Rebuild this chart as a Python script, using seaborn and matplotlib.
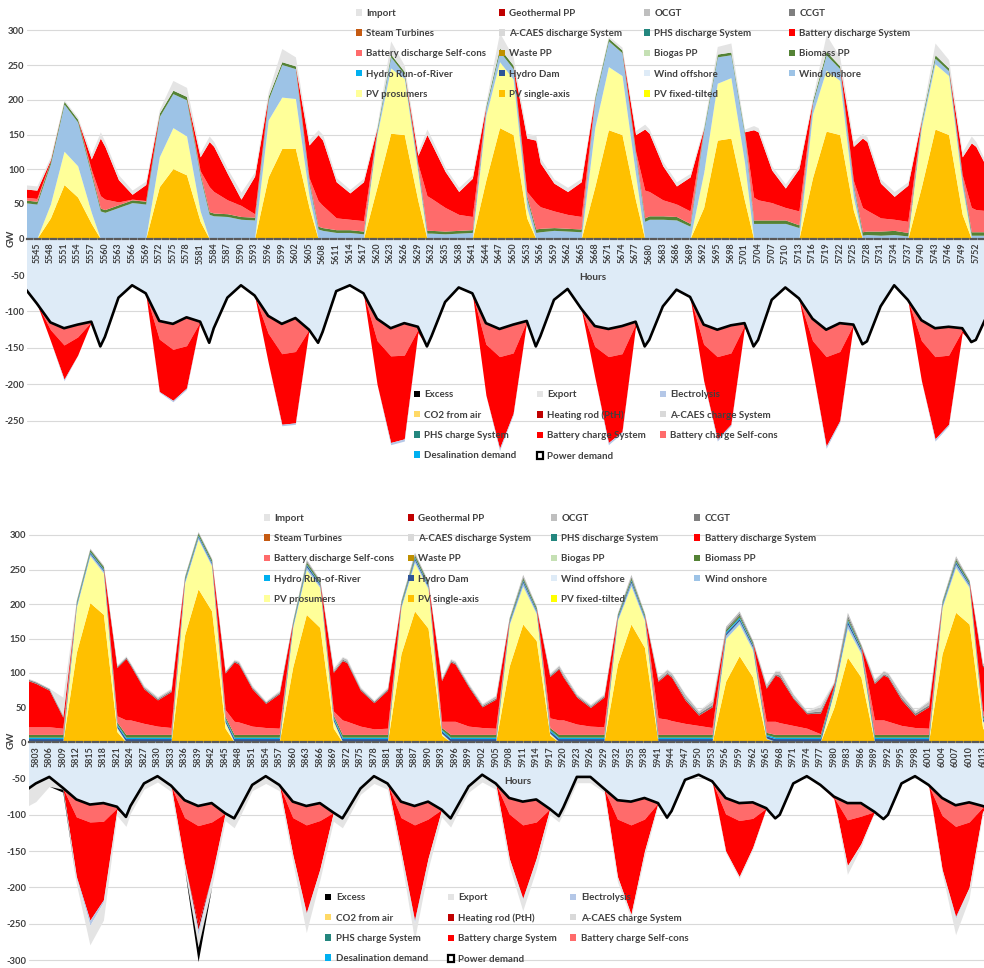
import numpy as np
import matplotlib
matplotlib.use("Agg")
import matplotlib.pyplot as plt
from matplotlib.patches import Patch
import seaborn as sns

# ------------------------------------------------------------------
# Upper window (hours 5543-5754), values in GW
# ------------------------------------------------------------------
top_hours = [
    5542, 5545, 5548, 5551, 5554, 5557, 5559,
    5560, 5563, 5566, 5569, 5572, 5575, 5578, 5581, 5583,
    5584, 5587, 5590, 5593, 5596, 5599, 5602, 5605, 5607,
    5608, 5611, 5614, 5617, 5620, 5623, 5626, 5629, 5631,
    5632, 5635, 5638, 5641, 5644, 5647, 5650, 5653, 5655,
    5656, 5659, 5662, 5665, 5668, 5671, 5674, 5677, 5679,
    5680, 5683, 5686, 5689, 5692, 5695, 5698, 5701, 5703,
    5704, 5707, 5710, 5713, 5716, 5719, 5722, 5725, 5727,
    5728, 5731, 5734, 5737, 5740, 5743, 5746, 5749, 5751,
    5752, 5755]

top_pv_single = [
    0, 0, 30, 78, 60, 22, 0,
    0, 0, 0, 0, 75, 101, 92, 25, 0,
    0, 0, 0, 0, 89, 130, 130, 45, 0,
    0, 0, 0, 0, 75, 152, 150, 55, 0,
    0, 0, 0, 0, 85, 160, 150, 30, 0,
    0, 0, 0, 0, 75, 157, 150, 55, 0,
    0, 0, 0, 0, 45, 142, 145, 55, 0,
    0, 0, 0, 0, 88, 155, 150, 41, 0,
    0, 0, 0, 0, 75, 158, 150, 35, 0,
    0, 0]
top_pv_prosumers = [
    0, 0, 20, 48, 45, 16, 0,
    0, 0, 0, 0, 43, 59, 56, 15, 0,
    0, 0, 0, 0, 82, 74, 72, 17, 0,
    0, 0, 0, 0, 75, 94, 81, 40, 0,
    0, 0, 0, 0, 93, 95, 80, 15, 0,
    0, 0, 0, 0, 85, 91, 85, 37, 0,
    0, 0, 0, 0, 50, 82, 87, 55, 0,
    0, 0, 0, 0, 92, 88, 78, 19, 0,
    0, 0, 0, 0, 85, 94, 85, 40, 0,
    0, 0]
top_wind_onshore = [
    52, 50, 58, 68, 63, 54, 40,
    38, 45, 52, 50, 58, 49, 52, 50, 35,
    33, 32, 28, 27, 29, 47, 43, 18, 14,
    12, 9, 9, 7, 6, 16, 6, 7, 8,
    8, 7, 8, 9, 10, 15, 15, 13, 9,
    10, 12, 11, 10, 40, 37, 33, 28, 25,
    28, 28, 27, 18, 60, 38, 33, 40, 22,
    22, 22, 22, 16, 15, 22, 17, 15, 5,
    6, 5, 6, 4, 8, 8, 7, 10, 5,
    5, 5]
top_biomass = [
    4, 4, 4, 4, 4, 4, 4,
    4, 4, 4, 4, 5, 5, 5, 4, 4,
    4, 4, 4, 4, 5, 4, 4, 4, 4,
    4, 4, 4, 4, 4, 4, 4, 4, 4,
    4, 4, 4, 4, 4, 5, 5, 4, 5,
    5, 4, 4, 4, 4, 4, 4, 4, 5,
    5, 5, 5, 4, 4, 4, 4, 4, 5,
    5, 5, 5, 4, 4, 5, 4, 4, 5,
    5, 6, 6, 5, 4, 5, 4, 4, 5,
    5, 5]
top_batt_dis_selfcons = [
    4, 4, 0, 0, 0, 4, 18,
    15, 4, 1, 1, 0, 0, 0, 4, 36,
    31, 20, 16, 5, 0, 0, 0, 4, 37,
    32, 17, 15, 15, 0, 0, 0, 2, 50,
    46, 34, 23, 19, 0, 0, 0, 6, 38,
    31, 24, 20, 18, 0, 0, 0, 2, 40,
    35, 23, 18, 18, 0, 0, 0, 0, 33,
    29, 25, 18, 20, 0, 0, 0, 5, 35,
    30, 19, 16, 16, 0, 0, 0, 3, 35,
    32, 30]
top_batt_dis_system = [
    12, 12, 2, 0, 0, 15, 83,
    76, 32, 7, 23, 0, 0, 0, 20, 65,
    65, 38, 9, 54, 0, 0, 0, 47, 95,
    94, 52, 38, 56, 0, 0, 0, 12, 88,
    79, 52, 33, 55, 0, 0, 0, 77, 90,
    63, 40, 33, 50, 0, 0, 0, 24, 88,
    84, 49, 26, 49, 0, 0, 0, 0, 97,
    98, 47, 28, 61, 0, 0, 0, 49, 100,
    99, 50, 33, 52, 0, 0, 0, 26, 93,
    91, 55]
top_import = [
    6, 6, 4, 2, 3, 7, 9,
    7, 7, 6, 5, 5, 14, 13, 6, 8,
    7, 7, 10, 6, 7, 19, 13, 8, 7,
    8, 6, 5, 5, 4, 19, 9, 6, 8,
    8, 6, 6, 5, 5, 22, 12, 7, 7,
    7, 6, 6, 5, 3, 3, 4, 6, 7,
    6, 6, 6, 5, 4, 11, 13, 4, 6,
    6, 6, 6, 5, 4, 24, 13, 7, 7,
    7, 6, 7, 5, 4, 17, 12, 7, 10,
    7, 5]

# consumption side (magnitudes, plotted below zero)
top_power_demand = [
    65, 89, 115, 123, 118, 114, 148,
    135, 81, 64, 75, 113, 117, 108, 114, 143,
    123, 81, 64, 78, 106, 117, 109, 125, 143,
    128, 72, 64, 75, 110, 123, 116, 121, 148,
    134, 87, 67, 75, 116, 124, 118, 113, 148,
    134, 84, 69, 96, 120, 124, 120, 114, 148,
    139, 93, 70, 80, 118, 125, 119, 116, 148,
    139, 84, 67, 82, 110, 125, 116, 118, 145,
    141, 93, 64, 84, 112, 123, 121, 123, 142,
    139, 98]
top_batt_chg_selfcons = [
    0, 0, 10, 23, 17, 0, 0,
    0, 0, 0, 0, 25, 35, 39, 0, 0,
    0, 0, 0, 0, 24, 41, 46, 0, 0,
    0, 0, 0, 0, 30, 38, 44, 4, 0,
    0, 0, 0, 0, 29, 38, 39, 0, 0,
    0, 0, 0, 0, 28, 38, 38, 3, 0,
    0, 0, 0, 0, 27, 37, 38, 3, 0,
    0, 0, 0, 0, 30, 37, 39, 0, 0,
    0, 0, 0, 0, 28, 39, 39, 3, 0,
    0, 0]
top_batt_chg_system = [
    0, 0, 15, 47, 25, 0, 0,
    0, 0, 0, 0, 72, 70, 58, 0, 0,
    0, 0, 0, 0, 40, 97, 98, 0, 0,
    0, 0, 0, 0, 60, 119, 115, 4, 0,
    0, 0, 0, 0, 70, 126, 83, 0, 0,
    0, 0, 0, 0, 42, 118, 107, 3, 0,
    0, 0, 0, 0, 50, 113, 98, 3, 0,
    0, 0, 0, 0, 40, 123, 95, 0, 0,
    0, 0, 0, 0, 55, 113, 95, 3, 0,
    0, 0]
top_electrolysis = [
    0, 0, 0, 2, 0, 0, 0,
    0, 0, 0, 0, 1, 2, 2, 0, 0,
    0, 0, 0, 0, 0, 2, 2, 0, 0,
    0, 0, 0, 0, 0, 3, 3, 0, 0,
    0, 0, 0, 0, 0, 3, 2, 0, 0,
    0, 0, 0, 0, 0, 3, 2, 0, 0,
    0, 0, 0, 0, 0, 3, 2, 0, 0,
    0, 0, 0, 0, 0, 3, 2, 0, 0,
    0, 0, 0, 0, 0, 3, 2, 0, 0,
    0, 0]

# ------------------------------------------------------------------
# Lower window (hours 5802-6013), values in GW
# ------------------------------------------------------------------
bot_hours = [
    5800, 5803, 5806, 5809, 5812, 5815, 5818, 5821, 5823,
    5824, 5827, 5830, 5833, 5836, 5839, 5842, 5845, 5847,
    5848, 5851, 5854, 5857, 5860, 5863, 5866, 5869, 5871,
    5872, 5875, 5878, 5881, 5884, 5887, 5890, 5893, 5895,
    5896, 5899, 5902, 5905, 5908, 5911, 5914, 5917, 5919,
    5920, 5923, 5926, 5929, 5932, 5935, 5938, 5941, 5943,
    5944, 5947, 5950, 5953, 5956, 5959, 5962, 5965, 5967,
    5968, 5971, 5974, 5977, 5980, 5983, 5986, 5989, 5991,
    5992, 5995, 5998, 6001, 6004, 6007, 6010, 6013, 6016]

bot_pv_single = [
    0, 0, 0, 0, 130, 202, 185, 15, 0,
    0, 0, 0, 0, 155, 222, 190, 20, 0,
    0, 0, 0, 0, 109, 185, 166, 20, 0,
    0, 0, 0, 0, 128, 190, 165, 10, 0,
    0, 0, 0, 0, 110, 171, 147, 10, 0,
    0, 0, 0, 0, 113, 171, 137, 0, 0,
    0, 0, 0, 0, 88, 125, 94, 5, 0,
    0, 0, 0, 0, 50, 123, 94, 0, 0,
    0, 0, 0, 0, 128, 188, 171, 20, 0]
bot_pv_prosumers = [
    0, 0, 0, 0, 65, 68, 60, 5, 0,
    0, 0, 0, 0, 75, 72, 65, 8, 0,
    0, 0, 0, 0, 57, 65, 58, 10, 0,
    0, 0, 0, 0, 67, 70, 57, 2, 0,
    0, 0, 0, 0, 60, 55, 39, 2, 0,
    0, 0, 0, 0, 63, 55, 39, 0, 0,
    0, 0, 0, 0, 62, 46, 39, 0, 0,
    0, 0, 0, 0, 22, 42, 34, 0, 0,
    0, 0, 0, 0, 67, 65, 53, 10, 0]
bot_wind_onshore = [
    1, 1, 1, 1, 3, 3, 3, 1, 1,
    1, 1, 1, 1, 3, 3, 3, 1, 1,
    1, 1, 1, 1, 3, 4, 3, 1, 1,
    1, 1, 1, 1, 3, 4, 3, 1, 1,
    1, 1, 1, 1, 3, 5, 3, 1, 1,
    1, 1, 1, 1, 3, 5, 3, 1, 1,
    1, 1, 1, 1, 5, 5, 4, 1, 1,
    1, 1, 1, 1, 2, 6, 4, 1, 1,
    1, 1, 1, 1, 3, 5, 3, 1, 1]
bot_hydro_dam = [
    4, 4, 4, 4, 2, 2, 2, 3, 4,
    4, 4, 4, 4, 2, 2, 2, 3, 4,
    4, 4, 4, 4, 2, 3, 2, 3, 4,
    4, 4, 4, 4, 2, 3, 2, 3, 4,
    4, 4, 4, 4, 2, 3, 2, 3, 4,
    4, 4, 4, 4, 2, 3, 2, 4, 4,
    4, 4, 4, 4, 3, 3, 3, 3, 4,
    4, 4, 4, 4, 3, 4, 3, 4, 4,
    4, 4, 4, 4, 2, 3, 2, 3, 4]
bot_hydro_ror = [
    2, 2, 2, 2, 1, 1, 1, 2, 2,
    2, 2, 2, 2, 1, 1, 1, 2, 2,
    2, 2, 2, 2, 1, 1, 1, 2, 2,
    2, 2, 2, 2, 1, 1, 1, 2, 2,
    2, 2, 2, 2, 1, 1, 1, 2, 2,
    2, 2, 2, 2, 1, 1, 1, 2, 2,
    2, 2, 2, 2, 2, 2, 1, 2, 2,
    2, 2, 2, 2, 2, 2, 1, 2, 2,
    2, 2, 2, 2, 1, 1, 1, 2, 2]
bot_biomass = [
    4, 4, 4, 4, 3, 3, 3, 3, 4,
    4, 4, 4, 4, 3, 3, 3, 3, 4,
    4, 4, 4, 4, 3, 3, 3, 3, 4,
    4, 4, 4, 4, 3, 3, 3, 3, 4,
    4, 4, 4, 4, 3, 3, 3, 3, 4,
    4, 4, 4, 4, 3, 3, 3, 4, 4,
    4, 4, 4, 4, 3, 3, 3, 3, 4,
    4, 4, 4, 4, 3, 3, 3, 4, 4,
    4, 4, 4, 4, 3, 3, 3, 3, 4]
bot_batt_dis_selfcons = [
    11, 11, 11, 9, 0, 0, 0, 9, 21,
    21, 16, 12, 10, 0, 0, 0, 10, 19,
    18, 12, 10, 9, 0, 0, 0, 6, 21,
    19, 12, 8, 9, 0, 0, 0, 9, 19,
    19, 12, 10, 9, 0, 0, 0, 14, 21,
    21, 15, 12, 11, 0, 0, 0, 24, 22,
    20, 16, 13, 10, 0, 0, 0, 16, 19,
    17, 13, 9, 1, 0, 0, 0, 21, 21,
    19, 13, 10, 9, 0, 0, 0, 6, 21]
bot_batt_dis_system = [
    70, 63, 53, 16, 0, 0, 0, 70, 89,
    79, 50, 38, 52, 0, 0, 0, 53, 86,
    84, 54, 35, 50, 0, 0, 0, 56, 86,
    85, 52, 38, 55, 0, 0, 0, 59, 86,
    83, 57, 30, 42, 0, 0, 0, 60, 74,
    62, 39, 27, 43, 0, 0, 0, 53, 66,
    63, 34, 15, 30, 0, 0, 0, 48, 67,
    66, 39, 21, 30, 3, 0, 0, 53, 65,
    64, 37, 18, 31, 0, 0, 0, 64, 86]
bot_ccgt = [
    2, 2, 2, 2, 1, 1, 1, 2, 2,
    2, 2, 2, 2, 1, 1, 1, 2, 2,
    2, 2, 2, 2, 1, 2, 1, 2, 2,
    2, 2, 2, 2, 1, 2, 1, 2, 2,
    2, 2, 2, 2, 1, 2, 1, 2, 2,
    2, 2, 2, 2, 1, 2, 1, 2, 2,
    2, 3, 3, 3, 2, 3, 2, 2, 2,
    3, 2, 2, 3, 1, 4, 2, 2, 2,
    2, 3, 3, 3, 1, 2, 1, 2, 2]
bot_ocgt = [
    1, 1, 1, 2, 1, 1, 1, 1, 1,
    1, 2, 2, 2, 1, 1, 1, 1, 1,
    2, 2, 1, 2, 1, 2, 1, 3, 3,
    3, 2, 1, 2, 1, 2, 1, 2, 2,
    2, 2, 2, 3, 1, 3, 1, 2, 3,
    4, 2, 2, 2, 1, 3, 1, 4, 4,
    4, 5, 3, 5, 3, 3, 1, 4, 4,
    5, 4, 2, 6, 1, 4, 1, 4, 4,
    4, 5, 3, 5, 1, 3, 1, 3, 1]
bot_import = [
    1, 0, 0, 25, 0, 0, 0, 1, 1,
    1, 1, 1, 1, 0, 0, 0, 1, 1,
    1, 1, 1, 1, 0, 0, 0, 2, 1,
    1, 1, 1, 1, 0, 0, 0, 1, 1,
    1, 1, 1, 1, 0, 0, 0, 1, 1,
    1, 1, 1, 1, 0, 0, 0, 1, 1,
    1, 1, 1, 3, 0, 0, 0, 1, 1,
    2, 1, 1, 4, 1, 0, 0, 1, 1,
    1, 1, 1, 2, 0, 0, 0, 1, 1]

bot_power_demand = [
    70, 57, 48, 63, 79, 86, 84, 89, 103,
    88, 57, 47, 60, 80, 88, 84, 98, 105,
    94, 59, 47, 59, 82, 88, 84, 97, 105,
    95, 64, 47, 57, 82, 88, 82, 93, 105,
    94, 61, 45, 57, 77, 82, 79, 92, 102,
    90, 48, 48, 64, 80, 82, 77, 84, 104,
    95, 52, 45, 54, 77, 84, 83, 91, 105,
    100, 57, 47, 59, 75, 84, 84, 96, 106,
    100, 57, 47, 59, 77, 87, 83, 88, 95]
bot_batt_chg_selfcons = [
    0, 0, 0, 0, 24, 24, 25, 2, 0,
    0, 0, 0, 0, 24, 27, 26, 0, 0,
    0, 0, 0, 0, 22, 26, 24, 0, 0,
    0, 0, 0, 0, 22, 26, 24, 0, 0,
    0, 0, 0, 0, 22, 32, 31, 0, 0,
    0, 0, 0, 0, 26, 32, 29, 0, 0,
    0, 0, 0, 0, 22, 24, 22, 0, 0,
    0, 0, 0, 0, 1, 23, 18, 0, 0,
    0, 0, 0, 0, 24, 29, 27, 2, 0]
bot_batt_chg_system = [
    0, 0, 0, 0, 82, 135, 108, 2, 0,
    0, 0, 0, 0, 63, 135, 75, 0, 0,
    0, 0, 0, 0, 51, 121, 67, 0, 0,
    0, 0, 0, 0, 46, 131, 54, 0, 0,
    0, 0, 0, 0, 61, 101, 50, 0, 0,
    0, 0, 0, 0, 79, 123, 44, 0, 0,
    0, 0, 0, 0, 51, 77, 40, 0, 0,
    0, 0, 0, 0, 2, 63, 38, 0, 0,
    0, 0, 0, 0, 74, 124, 90, 5, 0]
bot_heating_rod = [
    0, 0, 0, 0, 0, 0, 0, 0, 0,
    0, 0, 0, 0, 0, 8, 0, 0, 0,
    0, 0, 0, 0, 0, 0, 0, 0, 0,
    0, 0, 0, 0, 0, 0, 0, 0, 0,
    0, 0, 0, 0, 0, 0, 0, 0, 0,
    0, 0, 0, 0, 0, 0, 0, 0, 0,
    0, 0, 0, 0, 0, 0, 0, 0, 0,
    0, 0, 0, 0, 0, 0, 0, 0, 0,
    0, 0, 0, 0, 0, 0, 0, 0, 0]
bot_electrolysis = [
    0, 0, 0, 0, 2, 7, 3, 0, 0,
    0, 0, 0, 0, 0, 7, 2, 0, 0,
    0, 0, 0, 0, 0, 2, 0, 0, 0,
    0, 0, 0, 0, 0, 4, 0, 0, 0,
    0, 0, 0, 0, 0, 2, 0, 0, 0,
    0, 0, 0, 0, 0, 0, 0, 0, 0,
    0, 0, 0, 0, 0, 0, 0, 0, 0,
    0, 0, 0, 0, 0, 0, 0, 0, 0,
    0, 0, 0, 0, 0, 3, 0, 0, 0]
bot_export = [
    22, 25, 13, 2, 8, 27, 25, 8, 13,
    10, 8, 8, 8, 8, 17, 13, 10, 13,
    12, 8, 10, 8, 10, 25, 15, 12, 13,
    12, 8, 10, 8, 10, 23, 15, 10, 12,
    10, 8, 10, 8, 10, 15, 15, 8, 8,
    8, 8, 8, 5, 7, 5, 8, 3, 3,
    0, 0, 0, 0, 2, 3, 3, 0, 0,
    0, 0, 0, 0, 0, 12, 5, 0, 0,
    0, 0, 0, 0, 5, 22, 15, 3, 0]
bot_excess = [
    0, 0, 0, 4, 0, 0, 0, 0, 0,
    0, 0, 0, 0, 0, 20, 0, 0, 0,
    0, 0, 0, 0, 0, 0, 0, 0, 0,
    0, 0, 0, 0, 0, 0, 0, 0, 0,
    0, 0, 0, 0, 0, 0, 0, 0, 0,
    0, 0, 0, 0, 0, 0, 0, 0, 0,
    0, 0, 0, 0, 0, 0, 0, 0, 0,
    0, 0, 0, 0, 0, 0, 0, 0, 0,
    0, 0, 0, 0, 0, 0, 0, 0, 0]

# ------------------------------------------------------------------
# Colours and legend entries (row by row as laid out)
# ------------------------------------------------------------------
COL = {
    "Import": "#E4E4E4", "Geothermal PP": "#C00000", "OCGT": "#BFBFBF",
    "CCGT": "#7F7F7F", "Steam Turbines": "#C55A11",
    "A-CAES discharge System": "#D9D9D9", "PHS discharge System": "#23867E",
    "Battery discharge System": "#FF0000", "Battery discharge Self-cons": "#FF6B6B",
    "Waste PP": "#BF9000", "Biogas PP": "#C5E0B4", "Biomass PP": "#548235",
    "Hydro Run-of-River": "#00B0F0", "Hydro Dam": "#2F5597",
    "Wind offshore": "#DEEBF7", "Wind onshore": "#9DC3E6",
    "PV prosumers": "#FFFF99", "PV single-axis": "#FFC000", "PV fixed-tilted": "#FFFF00",
    "Excess": "#000000", "Export": "#E4E4E4", "Electrolysis": "#B4C7E7",
    "CO2 from air": "#FFD966", "Heating rod (PtH)": "#C00000",
    "A-CAES charge System": "#D9D9D9", "PHS charge System": "#23867E",
    "Battery charge System": "#FF0000", "Battery charge Self-cons": "#FF6B6B",
    "Desalination demand": "#00B0F0", "Power demand": "#DEEBF7",
}
gen_legend = ["Import", "Geothermal PP", "OCGT", "CCGT",
              "Steam Turbines", "A-CAES discharge System", "PHS discharge System",
              "Battery discharge System",
              "Battery discharge Self-cons", "Waste PP", "Biogas PP", "Biomass PP",
              "Hydro Run-of-River", "Hydro Dam", "Wind offshore", "Wind onshore",
              "PV prosumers", "PV single-axis", "PV fixed-tilted"]
use_legend = ["Excess", "Export", "Electrolysis",
              "CO2 from air", "Heating rod (PtH)", "A-CAES charge System",
              "PHS charge System", "Battery charge System", "Battery charge Self-cons",
              "Desalination demand", "Power demand"]

TXT = "#404040"
W, H = 984, 968

sns.set_theme(style="white")
plt.rcParams["font.family"] = ["Lato", "DejaVu Sans"]

fig = plt.figure(figsize=(W / 100, H / 100), dpi=100)


def px_axes(left, top, right, bottom):
    return fig.add_axes([left / W, 1 - bottom / H, (right - left) / W, (bottom - top) / H])


def draw_panel(axp, axn, hours, gen, use, demand, xlim, xticks, neg_min, neg_ticks):
    hours = np.asarray(hours, dtype=float)
    # generation, stacked upward from zero
    axp.stackplot(hours, *[np.asarray(v, float) for _, v in gen],
                  colors=[COL[k] for k, _ in gen], linewidth=0)
    # consumption, stacked downward: demand first, then flexible loads
    dem = -np.asarray(demand, float)
    layers = [dem] + [-np.asarray(v, float) for _, v in use]
    axn.stackplot(hours, *layers,
                  colors=[COL["Power demand"]] + [COL[k] for k, _ in use], linewidth=0)
    sns.lineplot(x=hours, y=dem, ax=axn, color="black", linewidth=1.9)
    axn.set_xlabel("")
    axn.set_ylabel("")

    for ax in (axp, axn):
        ax.set_xlim(*xlim)
        ax.set_axisbelow(True)
        ax.yaxis.grid(True, color="#D9D9D9", linewidth=0.8)
        ax.xaxis.grid(False)
        for s in ("top", "right", "left", "bottom"):
            ax.spines[s].set_visible(False)
        ax.tick_params(axis="y", length=0, pad=2)

    axp.set_ylim(0, 320)
    pos_ticks = list(range(0, 301, 50))
    axp.set_yticks(pos_ticks)
    axp.set_yticklabels([str(t) for t in pos_ticks], fontsize=6.8,
                        fontweight="bold", color=TXT)
    axn.set_ylim(neg_min, 0)
    axn.set_yticks(neg_ticks)
    axn.set_yticklabels([str(t) for t in neg_ticks], fontsize=6.8,
                        fontweight="bold", color=TXT)
    axn.set_xticks([])

    # zero line carrying the hour labels
    axp.spines["bottom"].set_visible(True)
    axp.spines["bottom"].set_color("#595959")
    axp.spines["bottom"].set_linewidth(1.6)
    axp.spines["bottom"].set_linestyle((0, (2.4, 1.2)))
    axp.set_xticks(xticks)
    axp.set_xticklabels([str(t) for t in xticks], rotation=90, fontsize=6.4,
                        fontweight="bold", color=TXT)
    axp.tick_params(axis="x", length=0, pad=3)

    axp.set_zorder(3)
    axn.set_zorder(2)
    axp.patch.set_visible(False)


def legend_grid(names, ncols, col_x, row1_y):
    for j in range(ncols):
        items = names[j::ncols]
        handles = []
        for n in items:
            if n == "Power demand":
                handles.append(Patch(facecolor="white", edgecolor="black", linewidth=1.6))
            else:
                handles.append(Patch(facecolor=COL[n], edgecolor="none"))
        fig.legend(handles=handles, labels=items, loc="upper left",
                   bbox_to_anchor=((col_x[j] - 3.2) / W, 1 - (row1_y - 3.0) / H),
                   bbox_transform=fig.transFigure, frameon=False,
                   borderpad=0, borderaxespad=0, handlelength=0.65,
                   handleheight=0.65, handletextpad=0.45, labelspacing=1.16,
                   prop={"family": ["Lato", "DejaVu Sans"], "weight": "bold", "size": 7.0},
                   labelcolor=TXT)


# ---------------- upper window ----------------
ax1p = px_axes(27.3, 238.7 - 222.1, 984, 238.7)
ax1n = px_axes(27.3, 238.7, 984, 455.6)
draw_panel(
    ax1p, ax1n, top_hours,
    gen=[("PV single-axis", top_pv_single), ("PV prosumers", top_pv_prosumers),
         ("Wind onshore", top_wind_onshore), ("Biomass PP", top_biomass),
         ("Battery discharge Self-cons", top_batt_dis_selfcons),
         ("Battery discharge System", top_batt_dis_system), ("Import", top_import)],
    use=[("Battery charge Self-cons", top_batt_chg_selfcons),
         ("Battery charge System", top_batt_chg_system),
         ("Electrolysis", top_electrolysis)],
    demand=top_power_demand,
    xlim=(5542.9, 5753.8), xticks=list(range(5545, 5753, 3)),
    neg_min=-298, neg_ticks=[-50, -100, -150, -200, -250])

# ---------------- lower window ----------------
ax2p = px_axes(29, 742 - 220.8, 984, 742)
ax2n = px_axes(29, 742, 984, 967.4)
draw_panel(
    ax2p, ax2n, bot_hours,
    gen=[("PV single-axis", bot_pv_single), ("PV prosumers", bot_pv_prosumers),
         ("Wind onshore", bot_wind_onshore), ("Hydro Dam", bot_hydro_dam),
         ("Hydro Run-of-River", bot_hydro_ror), ("Biomass PP", bot_biomass),
         ("Battery discharge Self-cons", bot_batt_dis_selfcons),
         ("Battery discharge System", bot_batt_dis_system),
         ("CCGT", bot_ccgt), ("OCGT", bot_ocgt), ("Import", bot_import)],
    use=[("Battery charge Self-cons", bot_batt_chg_selfcons),
         ("Battery charge System", bot_batt_chg_system),
         ("Heating rod (PtH)", bot_heating_rod),
         ("Electrolysis", bot_electrolysis),
         ("Export", bot_export), ("Excess", bot_excess)],
    demand=bot_power_demand,
    xlim=(5801.5, 6013.3), xticks=list(range(5803, 6014, 3)),
    neg_min=-310, neg_ticks=[-50, -100, -150, -200, -250, -300])

# axis titles
for ytxt, xh, yh in ((238.0, 593, 277), (740.0, 518, 781)):
    fig.text(11.5 / W, 1 - ytxt / H, "GW", rotation=90, ha="center", va="center",
             fontsize=7, fontweight="bold", color=TXT)
    fig.text(xh / W, 1 - yh / H, "Hours", ha="center", va="center",
             fontsize=7.2, fontweight="bold", color=TXT)

# legends
legend_grid(gen_legend, 4, [359, 502, 647, 792], 11.7)
legend_grid(use_legend, 3, [416.7, 540, 662.7], 393.3)
legend_grid(gen_legend, 4, [266.7, 410.7, 554, 697.3], 516.7)
legend_grid(use_legend, 3, [328.3, 450.7, 573.3], 896.3)

fig.savefig("out.png", dpi=100)
